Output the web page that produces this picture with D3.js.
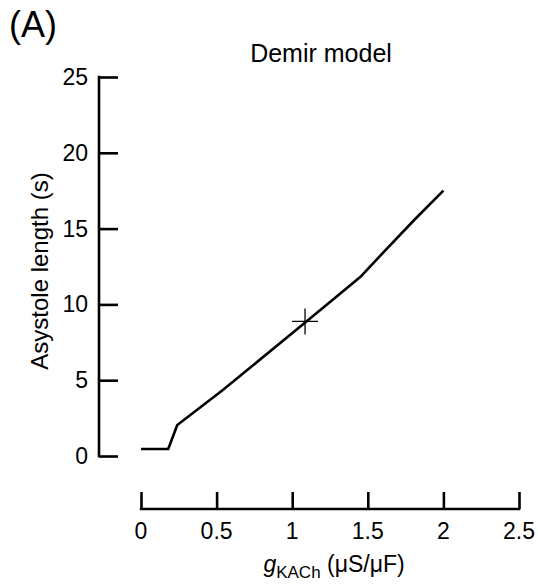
<!DOCTYPE html>
<html>
<head>
<meta charset="utf-8">
<script src="https://cdn.jsdelivr.net/npm/d3@7"></script>
<style>
  body { margin: 0; background: #fff; }
  svg { display: block; font-family: "Liberation Sans", Arial, sans-serif; }
</style>
</head>
<body>
<div id="chart"></div>
<script>
// Data
const gKACh = [0, 0.18, 0.24, 0.535, 1.09, 1.45, 1.6, 1.81, 2.0];
const asystole = [0.46, 0.46, 2.05, 4.3, 8.84, 11.8, 13.4, 15.6, 17.5];
const marker = { x: 1.085, y: 8.88 };
const xTicks = [0, 0.5, 1, 1.5, 2, 2.5];
const yTicks = [0, 5, 10, 15, 20, 25];

const width = 538, height = 588;

const svg = d3.select('#chart')
    .append('svg')
    .attr('width', width)
    .attr('height', height);

const x = d3.scaleLinear().domain([0, 2.5]).range([141, 519]);
const y = d3.scaleLinear().domain([0, 25]).range([456, 77]);

// Panel label + title
svg.append('text')
    .attr('x', 9).attr('y', 37)
    .style('font-size', '36px')
    .text('(A)');

svg.append('text')
    .attr('x', 321).attr('y', 62)
    .attr('text-anchor', 'middle')
    .style('font-size', '25px')
    .text('Demir model');

// Y axis (detached, ticks pointing right)
const yAxis = svg.append('g')
    .attr('transform', 'translate(99,0)')
    .call(d3.axisRight(y).tickValues(yTicks).tickSize(19).tickFormat(''));
yAxis.select('.domain').remove();
yAxis.append('line')
    .attr('x1', 0).attr('x2', 0)
    .attr('y1', y(25) - 1.2).attr('y2', y(0) + 1.2)
    .attr('stroke', '#000');
yAxis.selectAll('line').attr('stroke', '#000').attr('stroke-width', 2.6);

svg.append('g').selectAll('text')
    .data(yTicks)
    .join('text')
    .attr('x', 88)
    .attr('y', d => y(d) + 8)
    .attr('text-anchor', 'end')
    .style('font-size', '23px')
    .text(d => d);

svg.append('text')
    .attr('transform', 'translate(48,271) rotate(-90)')
    .attr('text-anchor', 'middle')
    .style('font-size', '24px')
    .text('Asystole length (s)');

// X axis (detached, ticks pointing up)
const xAxis = svg.append('g')
    .attr('transform', 'translate(0,509)')
    .call(d3.axisTop(x).tickValues(xTicks).tickSize(17).tickFormat(''));
xAxis.select('.domain').remove();
xAxis.append('line')
    .attr('x1', x(0) - 1.2).attr('x2', x(2.5) + 1.2)
    .attr('y1', 0).attr('y2', 0)
    .attr('stroke', '#000');
xAxis.selectAll('line').attr('stroke', '#000').attr('stroke-width', 2.6);

svg.append('g').selectAll('text')
    .data(xTicks)
    .join('text')
    .attr('x', d => x(d))
    .attr('y', 539)
    .attr('text-anchor', 'middle')
    .style('font-size', '23px')
    .text(d => d);

const xl = svg.append('text')
    .attr('x', 334).attr('y', 572)
    .attr('text-anchor', 'middle')
    .style('font-size', '23px');
xl.append('tspan').style('font-style', 'italic').text('g');
xl.append('tspan').attr('dy', 6).style('font-size', '17px').text('KACh');
xl.append('tspan').attr('dy', -6).text(' (\u03BCS/\u03BCF)');

// Curve
const line = d3.line()
    .x((d, i) => x(gKACh[i]))
    .y(d => y(d));

svg.append('path')
    .datum(asystole)
    .attr('fill', 'none')
    .attr('stroke', '#000')
    .attr('stroke-width', 2.6)
    .attr('stroke-linejoin', 'round')
    .attr('d', line);

// Reference marker (+)
const mx = x(marker.x), my = y(marker.y);
svg.append('path')
    .attr('d', `M${mx - 13},${my}H${mx + 13}M${mx},${my - 13}V${my + 13}`)
    .attr('stroke', '#000')
    .attr('stroke-width', 1.3);
</script>
</body>
</html>
